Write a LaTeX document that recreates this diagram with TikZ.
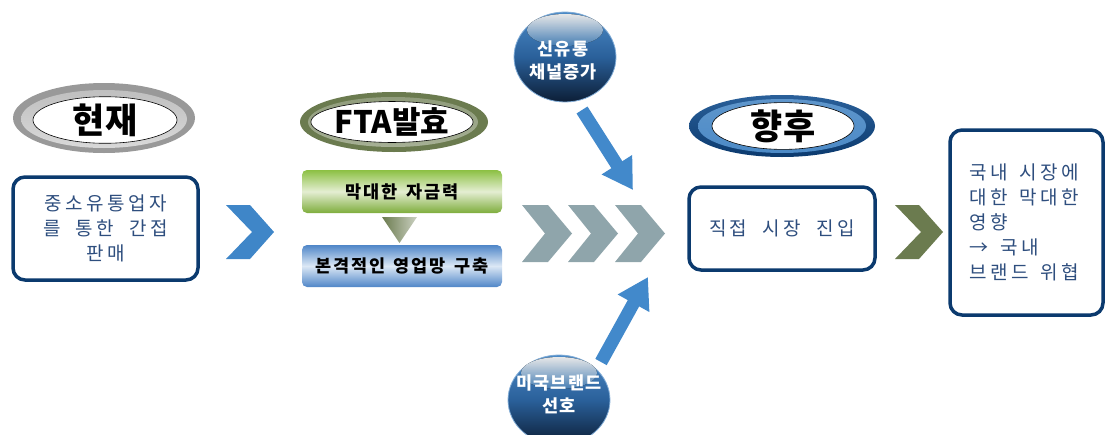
\documentclass[tikz,border=0pt]{standalone}
\usepackage{fontspec}
\setmainfont{Noto Sans CJK KR}
\newfontfamily\boxfont{Noto Sans CJK KR}[LetterSpace=18,WordSpace=2]
\newfontfamily\gradfont{Noto Sans CJK KR}[LetterSpace=10,WordSpace=1.5]
\newfontfamily\circfont{Noto Sans CJK KR}[LetterSpace=6]
\usetikzlibrary{arrows.meta,shapes.geometric}
\definecolor{navy}{HTML}{0B3A6E}
\definecolor{boxtext}{HTML}{2E4E7E}
\definecolor{chevblue}{HTML}{3F86C8}
\definecolor{chevgrey}{HTML}{8FA5AB}
\definecolor{chevolive}{HTML}{6B7B4F}
\definecolor{arrowblue}{HTML}{4289CB}
\definecolor{cblue}{HTML}{4C8AC6}
\definecolor{cmid}{HTML}{2A609A}
\definecolor{cdark}{HTML}{0C1E36}
\definecolor{greentop}{HTML}{8CC043}
\definecolor{greenmid}{HTML}{E4EED2}
\definecolor{bluetop}{HTML}{4F86C8}
\definecolor{bluemid}{HTML}{DCE8F5}
\tikzset{
  chev/.pic={\fill[#1] (0,0) -- (24,0) -- (48,27) -- (24,54) -- (0,54) -- (26,27) -- cycle;},
  chevg/.pic={\fill[chevgrey] (0,0) -- (26,0) -- (50,28.5) -- (26,57) -- (0,57) -- (23,28.5) -- cycle;},
  infobox/.style={draw=navy, line width=3.5pt, rounded corners=12pt, fill=white, text=boxtext,
    font=\boxfont\fontsize{19}{25}\selectfont, align=center, inner sep=0pt},
  heading/.style={ellipse, draw=black, line width=0.6pt, fill=white, inner sep=0pt,
    font=\bfseries\fontsize{35}{35}\selectfont},
  gradbox/.style={rounded corners=5pt, inner sep=0pt, minimum width=200pt,
    font=\gradfont\bfseries\fontsize{17.5}{20}\selectfont},
  circ/.style={ellipse, minimum width=102pt, minimum height=90pt, inner sep=0pt,
    top color=cblue, bottom color=cdark, middle color=cmid, draw=cblue!70, line width=0.8pt},
  circtext/.style={text=white, align=center, font=\circfont\bfseries\fontsize{17.5}{23}\selectfont, inner sep=0pt},
  gloss/.style={top color=white, bottom color=cblue, opacity=0.9},
  bigarrow/.style={draw=arrowblue, line width=13pt, -{Triangle[width=34pt,length=30pt]}}
}
\begin{document}
\begin{tikzpicture}[x=1pt,y=-1pt]
\useasboundingbox (0,0) rectangle (1106,434);

% ---- heading 현재
\fill[black!40] (104,118) ellipse [x radius=91pt, y radius=35pt];
\shade[top color=black!25, bottom color=black!15] (104,119) ellipse [x radius=83pt, y radius=29pt];
\node[heading, minimum width=144pt, minimum height=44pt] (now) at (105,120) {현재};

% ---- heading FTA발효
\fill[chevolive] (394,122) ellipse [x radius=94pt, y radius=30pt];
\shade[top color=chevolive!75, bottom color=chevolive!60] (393,122) ellipse [x radius=85pt, y radius=25pt];
\node[heading, minimum width=144pt, minimum height=40pt, font=\bfseries\fontsize{31}{31}\selectfont] (fta) at (392,122) {FTA발효};

% ---- heading 향후
\shade[top color=cmid, bottom color=navy] (782,126) ellipse [x radius=93pt, y radius=31pt];
\shade[top color=cblue!90, bottom color=cblue] (782,126) ellipse [x radius=84pt, y radius=27pt];
\node[heading, minimum width=142pt, minimum height=46pt] (future) at (783,126) {향후};

% ---- boxes
\node[infobox, minimum width=185pt, minimum height=103pt] (b1) at (105.5,228.5) {중소유통업자\\를 통한 간접\\판매};
\node[infobox, minimum width=186pt, minimum height=83pt] (b3) at (782,228.5) {직접 시장 진입};
\node[infobox, minimum height=185pt, text width=114pt, align=left, inner xsep=19.5pt] (b4) at (1026.5,222.5) {\spaceskip=12pt\relax 국내 시장에\\대한 막대한\\영향\\→ 국내\\브랜드 위협};

% ---- gradient boxes
\node[gradbox, minimum height=43pt, top color=greentop, bottom color=greentop!90!black, middle color=greenmid] (g1) at (402,191.5) {막대한 자금력};
\node[gradbox, minimum height=42pt, top color=bluetop, bottom color=bluetop, middle color=bluemid] (g2) at (402,266) {본격적인 영업망 구축};
\shade[left color=chevolive, right color=chevolive!35] (382,217) -- (417,217) -- (399.5,243) -- cycle;

% ---- chevrons
\pic at (226,205) {chev=chevblue};
\pic at (522,205) {chevg};
\pic at (568,205) {chevg};
\pic at (615,205) {chevg};
\pic at (895,205) {chev=chevolive};

% ---- circles
\node[circ] (c1) at (565,57) {};
\fill[gloss] (565,30) ellipse [x radius=38pt, y radius=16pt];
\node[circtext] (c1t) at (563,60) {신유통\\채널증가};
\node[circ] (c2) at (559,400) {};
\fill[gloss] (559,373) ellipse [x radius=38pt, y radius=16pt];
\node[circtext] (c2t) at (559,394) {미국브랜드\\선호};

% ---- arrows
\coordinate (a1s) at (582,110);
\coordinate (a1e) at (633,190);
\coordinate (a2s) at (601,362);
\coordinate (a2e) at (648,277);
\draw[bigarrow] (a1s) -- (a1e);
\draw[bigarrow] (a2s) -- (a2e);
\end{tikzpicture}
\end{document}
